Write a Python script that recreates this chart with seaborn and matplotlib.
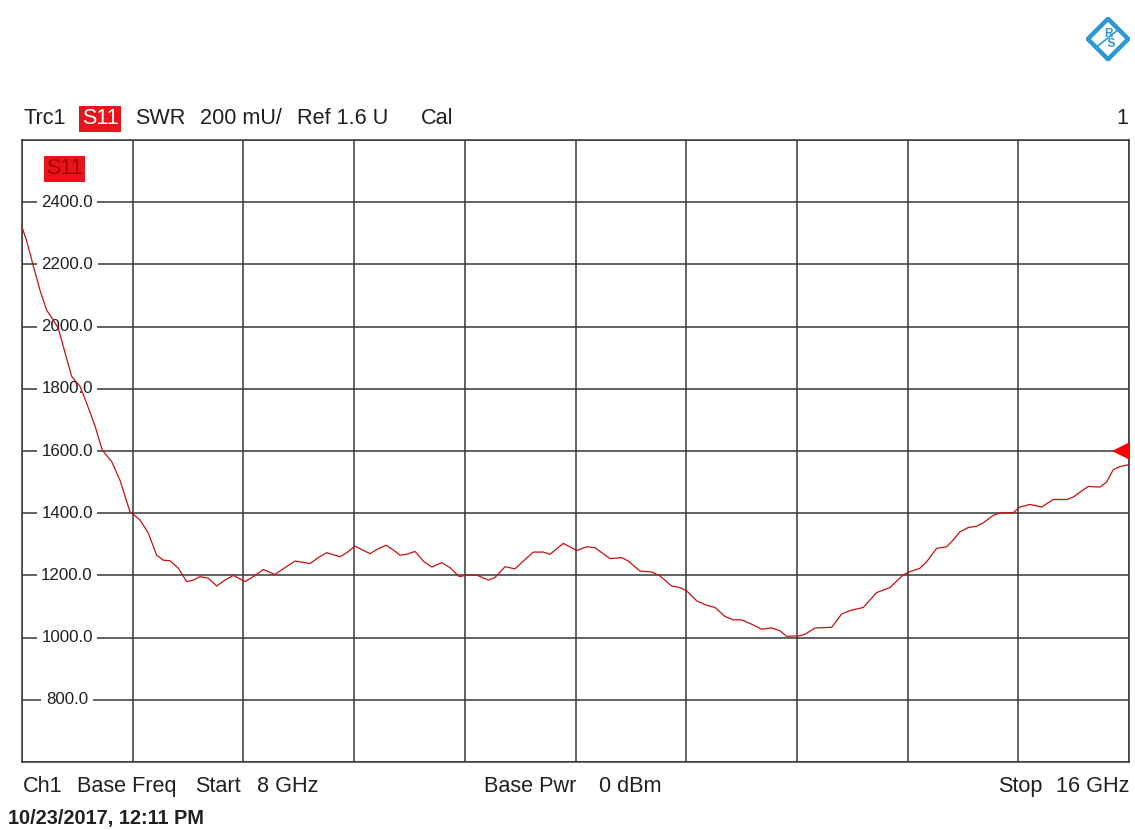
import numpy as np
import pandas as pd
import matplotlib
matplotlib.use("Agg")
import matplotlib.pyplot as plt
import matplotlib.transforms as mtransforms
from matplotlib.patches import RegularPolygon
from matplotlib import font_manager
import seaborn as sns

# Sweep points: frequency (GHz) and SWR (mU)
freq_ghz = [8.000, 8.034, 8.082, 8.130, 8.178, 8.226, 8.262, 8.311, 8.359, 8.419,
            8.468, 8.528, 8.580, 8.648, 8.708, 8.780, 8.853, 8.913, 8.973, 9.021,
            9.070, 9.130, 9.190, 9.238, 9.286, 9.346, 9.407, 9.467, 9.527, 9.612,
            9.672, 9.744, 9.828, 9.901, 9.973, 10.021, 10.081, 10.141, 10.202, 10.298,
            10.347, 10.406, 10.455, 10.515, 10.575, 10.631, 10.683, 10.732, 10.780, 10.840,
            10.900, 10.961, 11.033, 11.093, 11.160, 11.214, 11.286, 11.370, 11.418, 11.491,
            11.563, 11.623, 11.695, 11.767, 11.816, 11.912, 12.009, 12.081, 12.141, 12.249,
            12.334, 12.382, 12.466, 12.551, 12.611, 12.695, 12.755, 12.804, 12.876, 12.948,
            13.008, 13.080, 13.140, 13.201, 13.273, 13.346, 13.418, 13.478, 13.526, 13.622,
            13.659, 13.731, 13.851, 13.924, 13.984, 14.080, 14.177, 14.273, 14.369, 14.417,
            14.489, 14.538, 14.610, 14.682, 14.730, 14.778, 14.839, 14.899, 14.947, 15.019,
            15.080, 15.164, 15.212, 15.284, 15.369, 15.453, 15.549, 15.597, 15.705, 15.790,
            15.838, 15.886, 15.935, 16.000]
swr_mu = [2320, 2275, 2195, 2117, 2053, 2021, 1995, 1916, 1840, 1808,
          1753, 1680, 1603, 1566, 1506, 1405, 1378, 1336, 1265, 1249,
          1247, 1223, 1180, 1185, 1196, 1191, 1166, 1185, 1200, 1180,
          1196, 1219, 1203, 1225, 1246, 1243, 1238, 1257, 1273, 1260,
          1273, 1294, 1283, 1270, 1286, 1297, 1282, 1265, 1268, 1277,
          1246, 1227, 1241, 1225, 1196, 1201, 1201, 1185, 1193, 1228,
          1221, 1246, 1275, 1275, 1268, 1303, 1280, 1292, 1289, 1254,
          1257, 1246, 1214, 1211, 1198, 1166, 1161, 1150, 1118, 1104,
          1097, 1068, 1057, 1057, 1043, 1027, 1031, 1022, 1004, 1006,
          1011, 1031, 1033, 1076, 1087, 1097, 1145, 1161, 1202, 1212,
          1223, 1244, 1287, 1292, 1314, 1340, 1354, 1358, 1369, 1393,
          1402, 1402, 1420, 1428, 1420, 1444, 1444, 1452, 1486, 1484,
          1500, 1540, 1550, 1556]

y_tick_labels = [800, 1000, 1200, 1400, 1600, 1800, 2000, 2200, 2400]
ref_level = 1600
f_start, f_stop = 8.0, 16.0
y_bottom, y_top = 600, 2600

sns.set_theme(style="white")
plt.rcParams["font.family"] = ["Liberation Sans", "DejaVu Sans"]

# Tall, narrow face for the instrument annotations when available
installed = {f.name for f in font_manager.fontManager.ttflist}
if "Liberation Sans Narrow" in installed:
    ann_family = ["Liberation Sans Narrow", "Liberation Sans"]
    ann_fs = 19.0
else:
    ann_family = ["Liberation Sans", "DejaVu Sans"]
    ann_fs = 15.6

W, H = 1135, 830
fig = plt.figure(figsize=(W / 100, H / 100), dpi=100)
fig.patch.set_facecolor("white")
ax = fig.add_axes([22 / W, 68 / H, 1107 / W, 622 / H])

df = pd.DataFrame({"freq": freq_ghz, "swr": swr_mu})
sns.lineplot(data=df, x="freq", y="swr", ax=ax, color="#c81010",
             linewidth=0.9, zorder=4, sort=False, estimator=None)

ax.set_xlim(f_start, f_stop)
ax.set_ylim(y_bottom, y_top)
ax.set_xticks(np.linspace(f_start, f_stop, 11))
ax.set_yticks(np.arange(y_bottom, y_top + 1, 200))
ax.grid(True, color="#383838", linewidth=1.1)
ax.tick_params(length=0, labelbottom=False, labelleft=False)
ax.set_xlabel("")
ax.set_ylabel("")
for sp in ax.spines.values():
    sp.set_color("#383838")
    sp.set_linewidth(1.1)
    sp.set_visible(True)

# Value labels sitting inside the first column, masking the grid line
blend = mtransforms.blended_transform_factory(ax.transAxes, ax.transData)
for v in y_tick_labels:
    ax.text(0.0407, v, f"{v:.1f}", transform=blend, ha="center", va="center",
            fontsize=12.2, color="#202020", zorder=3,
            bbox=dict(boxstyle="square,pad=0.27", fc="white", ec="none"))

# Trace name tag in the top-left cell
ax.text(0.0385, 0.9535, "S11", transform=ax.transAxes, ha="center", va="center",
        fontsize=ann_fs, family=ann_family, color="#a80000", zorder=5,
        bbox=dict(boxstyle="square,pad=0.1", fc="#e8141c", ec="none"))

# Reference level marker on the right edge
shift = mtransforms.ScaledTranslation(-8 / 100, 0, fig.dpi_scale_trans)
ax.plot([f_stop], [ref_level], marker="<", markersize=13, color="#ff0000",
        markeredgewidth=0, clip_on=False, zorder=6,
        transform=ax.transData + shift)

txt = dict(fontsize=ann_fs, family=ann_family, color="#202020", va="center")

# Header line
hy = 1 - 119 / H
fig.text(24 / W, hy, "Trc1", **txt)
fig.text(82 / W, hy, "S11", **{**txt, "color": "white"},
         bbox=dict(boxstyle="square,pad=0.12", fc="#e8141c", ec="none"))
fig.text(135 / W, hy, "SWR", **txt)
fig.text(200 / W, hy, "200 mU/", **txt)
fig.text(297 / W, hy, "Ref 1.6 U", **txt)
fig.text(421 / W, hy, "Cal", **txt)
fig.text(1128 / W, hy, "1", **{**txt, "ha": "right"})

# Footer line
fy = 1 - 786 / H
fig.text(23 / W, fy, "Ch1", **txt)
fig.text(77 / W, fy, "Base Freq", **txt)
fig.text(195 / W, fy, "Start", **txt)
fig.text(257 / W, fy, "8 GHz", **txt)
fig.text(484 / W, fy, "Base Pwr", **txt)
fig.text(599 / W, fy, "0 dBm", **txt)
fig.text(998 / W, fy, "Stop", **txt)
fig.text(1130 / W, fy, "16 GHz", **{**txt, "ha": "right"})
fig.text(8 / W, 1 - 818 / H, "10/23/2017, 12:11 PM", fontsize=14.4, fontweight="bold",
         color="#202020", va="center")

# Maker badge in the top-right corner
lax = fig.add_axes([1086 / W, 1 - 61 / H, 44 / W, 44 / H])
lax.set_xlim(-1, 1)
lax.set_ylim(-1, 1)
lax.set_aspect("equal")
lax.axis("off")
lax.add_patch(RegularPolygon((0, 0), numVertices=4, radius=0.92, orientation=0,
                             fill=False, ec="#2a98d4", lw=3.2))
lax.plot([-0.5, 0.5], [-0.35, 0.45], color="#2a98d4", lw=1.2)
lax.text(0.02, 0.0, "R\n  S", fontsize=8.5, color="#2a98d4", ha="center", va="center",
         fontweight="bold", linespacing=0.8)

fig.savefig("out.png", dpi=100, facecolor="white")
